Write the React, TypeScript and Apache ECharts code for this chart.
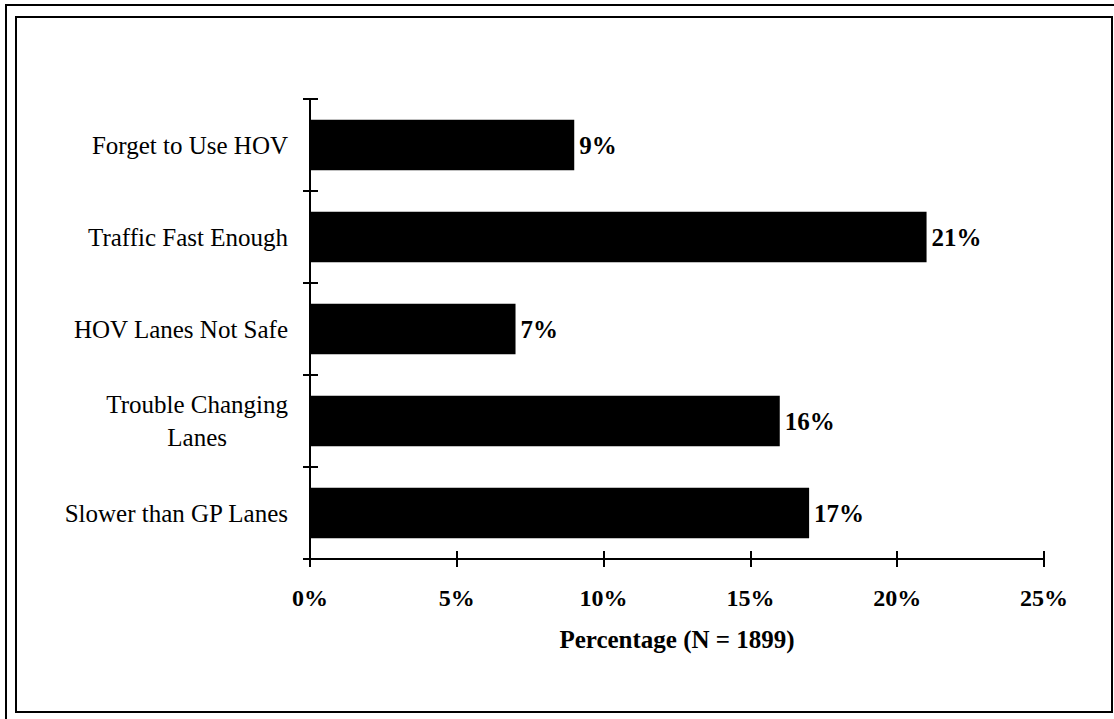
import React, { useEffect, useRef } from "react";
import * as echarts from "echarts";

const categories = [
  "Slower than GP Lanes",
  "Trouble Changing Lanes",
  "HOV Lanes Not Safe",
  "Traffic Fast Enough",
  "Forget to Use HOV",
];
const values = [17, 16, 7, 21, 9];
const xTicks = [0, 5, 10, 15, 20, 25];
const axisTitle = "Percentage (N = 1899)";

const FONT = "'Liberation Serif', 'Times New Roman', serif";

export default function App() {
  const ref = useRef<HTMLDivElement>(null);
  useEffect(() => {
    if (!ref.current) return;
    const chart = echarts.init(ref.current, undefined, { renderer: "svg" });
    const grid = { left: 310, right: 70, top: 99, bottom: 160 };
    const axisLine = { show: true, lineStyle: { color: "#000", width: 2 } };
    chart.setOption({
      animation: false,
      backgroundColor: "#fff",
      grid,
      xAxis: [
        {
          type: "value",
          min: 0,
          max: 25,
          interval: 5,
          axisLine,
          axisTick: { show: true, length: 8, lineStyle: { color: "#000", width: 2 } },
          splitLine: { show: false },
          axisLabel: {
            margin: 27,
            formatter: (v: number) => (xTicks.includes(v) ? `${v}%` : ""),
            fontFamily: FONT,
            fontWeight: "bold",
            fontSize: 24,
            color: "#000",
          },
          name: axisTitle,
          nameLocation: "middle",
          nameGap: 68,
          nameTextStyle: {
            fontFamily: FONT,
            fontWeight: "bold",
            fontSize: 25,
            color: "#000",
            verticalAlign: "top",
          },
        },
        {
          type: "value",
          min: 0,
          max: 25,
          interval: 5,
          position: "bottom",
          axisLine: { show: false },
          axisTick: { show: true, inside: true, length: 8, lineStyle: { color: "#000", width: 2 } },
          axisLabel: { show: false },
          splitLine: { show: false },
        },
      ],
      yAxis: [
        {
          type: "category",
          data: categories,
          axisLine,
          axisTick: { show: true, length: 7, lineStyle: { color: "#000", width: 2 } },
          axisLabel: {
            margin: 22,
            fontFamily: FONT,
            fontSize: 25,
            color: "#000",
            formatter: (v: string) =>
              v === "Trouble Changing Lanes" ? "{c|Trouble Changing}\n{c|Lanes}" : v,
            rich: {
              c: { align: "center", fontFamily: FONT, fontSize: 25, color: "#000", lineHeight: 33 },
            },
          },
        },
        {
          type: "category",
          data: categories,
          position: "left",
          axisLine: { show: false },
          axisTick: { show: true, inside: true, length: 8, lineStyle: { color: "#000", width: 2 } },
          axisLabel: { show: false },
        },
      ],
      series: [
        {
          type: "bar",
          data: values,
          barCategoryGap: "45%",
          itemStyle: { color: "#000" },
          label: {
            show: true,
            position: "right",
            distance: 5,
            formatter: "{c}%",
            fontFamily: FONT,
            fontWeight: "bold",
            fontSize: 25,
            color: "#000",
          },
        },
      ],
      graphic: [
        {
          type: "polyline",
          shape: { points: [[6, 719], [6, 5], [1114, 5]] },
          style: { stroke: "#000", lineWidth: 2, fill: "none" },
          silent: true,
        },
        {
          type: "rect",
          shape: { x: 16, y: 17, width: 1096, height: 695 },
          style: { stroke: "#000", lineWidth: 2, fill: "none" },
          silent: true,
        },
      ],
    });
    return () => chart.dispose();
  }, []);
  return (
    <div
      ref={ref}
      style={{ position: "absolute", left: 0, top: 0, width: 1114, height: 719 }}
    />
  );
}
